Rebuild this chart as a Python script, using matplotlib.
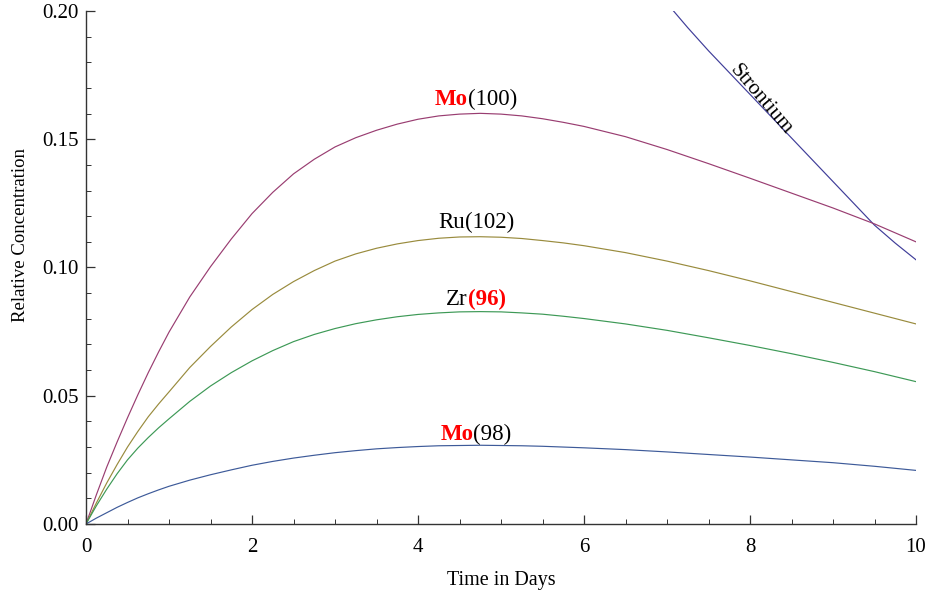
import matplotlib
matplotlib.use("Agg")
import matplotlib.pyplot as plt
from matplotlib.ticker import MultipleLocator, FormatStrFormatter

plt.rcParams['font.family'] = ['Liberation Serif', 'DejaVu Serif']

# time grid (days) for the daughter products
t = [0, 0.125, 0.25, 0.375, 0.5, 0.625, 0.75, 0.875, 1.0, 1.25, 1.5, 1.75,
     2.0, 2.25, 2.5, 2.75, 3.0, 3.25, 3.5, 3.75, 4.0, 4.25, 4.5, 4.75, 5.0,
     5.25, 5.5, 5.75, 6.0, 6.5, 7.0, 7.5, 8.0, 8.5, 9.0, 9.5, 10.0]

mo100 = [0, 0.0114, 0.0222, 0.0320, 0.0414, 0.0504, 0.0590, 0.0671, 0.0748,
         0.0885, 0.1003, 0.1111, 0.1210, 0.1293, 0.1365, 0.1422, 0.1470,
         0.1506, 0.1535, 0.1559, 0.1578, 0.1591, 0.1598, 0.1601, 0.1598,
         0.1591, 0.1580, 0.1566, 0.1550, 0.1510, 0.1460, 0.1405, 0.1348,
         0.1290, 0.1232, 0.1170, 0.1100]
ru102 = [0, 0.0082, 0.0160, 0.0232, 0.0300, 0.0361, 0.0418, 0.0468, 0.0515,
         0.0610, 0.0692, 0.0768, 0.0836, 0.0895, 0.0945, 0.0988, 0.1025,
         0.1053, 0.1075, 0.1092, 0.1105, 0.1114, 0.1119, 0.1120, 0.1118,
         0.1113, 0.1105, 0.1096, 0.1085, 0.1058, 0.1025, 0.0988, 0.0948,
         0.0906, 0.0864, 0.0822, 0.0780]
zr96 = [0, 0.0071, 0.0136, 0.0196, 0.0250, 0.0296, 0.0337, 0.0375, 0.0410,
        0.0478, 0.0538, 0.0590, 0.0636, 0.0676, 0.0711, 0.0739, 0.0762,
        0.0781, 0.0796, 0.0808, 0.0817, 0.0823, 0.0827, 0.0828, 0.0827,
        0.0823, 0.0818, 0.0810, 0.0801, 0.0780, 0.0755, 0.0726, 0.0696,
        0.0664, 0.0630, 0.0594, 0.0555]
mo98 = [0, 0.0023, 0.0044, 0.0065, 0.0084, 0.0102, 0.0118, 0.0133, 0.0147,
        0.0171, 0.0192, 0.0211, 0.0229, 0.0244, 0.0257, 0.0268, 0.0278,
        0.0286, 0.0293, 0.0298, 0.0302, 0.0305, 0.0306, 0.0307, 0.0306,
        0.0305, 0.0303, 0.0300, 0.0297, 0.0290, 0.0281, 0.0271, 0.0261,
        0.0250, 0.0239, 0.0225, 0.0209]

# strontium parent, only the part inside the plot range
t_sr = [7.0, 7.25, 7.5, 7.75, 8.0, 8.25, 8.5, 8.75, 9.0, 9.25, 9.5, 9.75, 10.0]
sr = [0.2030, 0.1935, 0.1845, 0.1760, 0.1675, 0.1590, 0.1505, 0.1420,
      0.1335, 0.1250, 0.1165, 0.1095, 0.1030]

c_sr = (0.247, 0.24, 0.6)
c_mo100 = (0.6, 0.24, 0.443)
c_ru102 = (0.6, 0.547, 0.24)
c_zr96 = (0.24, 0.6, 0.337)
c_mo98 = (0.24, 0.353, 0.6)

fig = plt.figure(figsize=(9.28, 5.98), dpi=100)
ax = fig.add_axes([86 / 928, 1 - 524 / 598, 830 / 928, 513 / 598])

lw = 0.85
ax.plot(t_sr, sr, color=c_sr, lw=lw)
ax.plot(t, mo100, color=c_mo100, lw=lw)
ax.plot(t, ru102, color=c_ru102, lw=lw)
ax.plot(t, zr96, color=c_zr96, lw=lw)
ax.plot(t, mo98, color=c_mo98, lw=lw)

ax.set_xlim(0, 10)
ax.set_ylim(0, 0.20)
for s in ['top', 'right']:
    ax.spines[s].set_visible(False)
for s in ['left', 'bottom']:
    ax.spines[s].set_linewidth(1.0)
    ax.spines[s].set_color('#333333')

ax.xaxis.set_major_locator(MultipleLocator(2))
ax.xaxis.set_minor_locator(MultipleLocator(0.5))
ax.yaxis.set_major_locator(MultipleLocator(0.05))
ax.yaxis.set_minor_locator(MultipleLocator(0.01))
ax.yaxis.set_major_formatter(FormatStrFormatter('%.2f'))
ax.tick_params(which='both', direction='in', color='#333333', labelsize=15)
ax.tick_params(which='major', length=6.5, width=0.9)
ax.tick_params(which='minor', length=3.8, width=0.7)
ax.tick_params(axis='x', pad=10)
ax.tick_params(axis='y', pad=5)

ax.set_xlabel('Time in Days', fontsize=14.5)
ax.set_ylabel('Relative Concentration', fontsize=13.5)
ax.xaxis.set_label_coords(0.5, -0.092)
ax.yaxis.set_label_coords(-0.069, 0.563)

# two-part curve labels: (text, bold+red flag) pairs, centred at x
labels = [
    (4.70, 0.1634, [('Mo', True), ('(100)', False)]),
    (4.70, 0.1154, [('Ru', False), ('(102)', False)]),
    (4.70, 0.0854, [('Zr', False), ('(96)', True)]),
    (4.70, 0.0327, [('Mo', True), ('(98)', False)]),
]
fs_lab = 16.5
fig.canvas.draw()
renderer = fig.canvas.get_renderer()
for xc, yb, parts in labels:
    arts = []
    prev = None
    for txt, hl in parts:
        kw = dict(fontsize=fs_lab, color='red' if hl else 'black',
                  fontweight='bold' if hl else 'normal', va='baseline', ha='left')
        if prev is None:
            a = ax.text(xc, yb, txt, **kw)
        else:
            a = ax.annotate(txt, xy=(1, yb), xycoords=(prev, 'data'), **kw)
        arts.append(a)
        prev = a
    fig.canvas.draw()
    width = sum(a.get_window_extent(renderer).width for a in arts)
    px_per_unit = ax.transData.transform((1, 0))[0] - ax.transData.transform((0, 0))[0]
    arts[0].set_x(xc - width / 2 / px_per_unit)

ax.text(8.13, 0.1655, 'Strontium', fontsize=15.5, rotation=-49.5,
        rotation_mode='anchor', ha='center', va='center')

fig.savefig('out.png', dpi=100)
